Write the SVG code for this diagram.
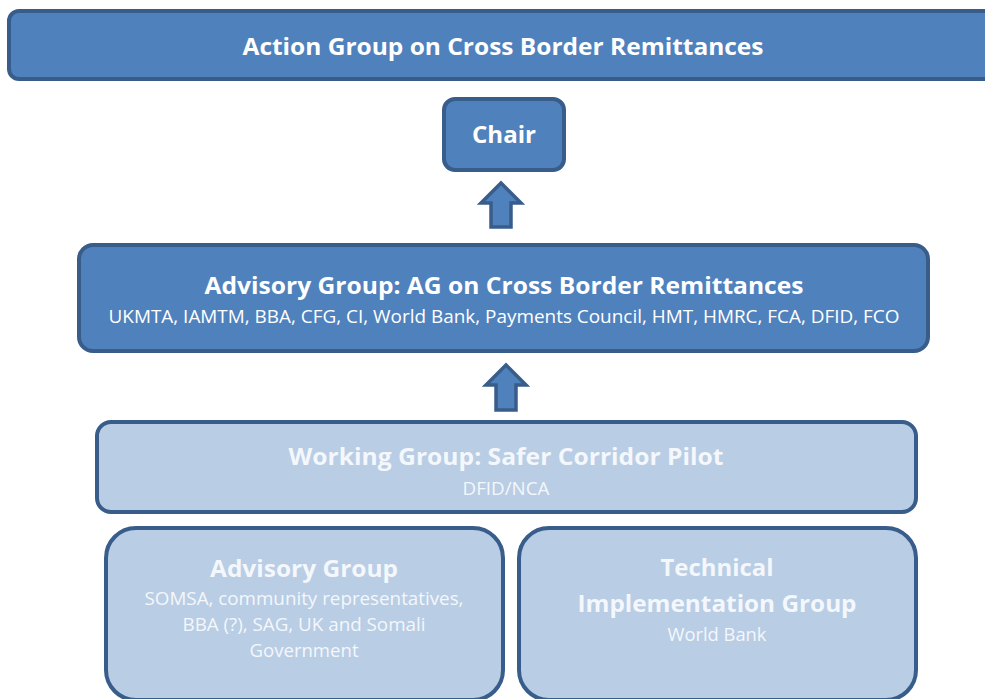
<svg xmlns="http://www.w3.org/2000/svg" width="985" height="699" viewBox="0 0 985 699">
  <style>
    .dark { fill: #4f81bd; stroke: #385d8a; stroke-width: 4; }
    .light { fill: #b9cde5; stroke: #385d8a; stroke-width: 4; }
    .arrow { fill: #4f81bd; stroke: #385d8a; stroke-width: 3.5; stroke-linejoin: miter; }
    text { font-family: "Open Sans", "Noto Sans", sans-serif; text-anchor: middle; fill: #ffffff; }
    .h { font-weight: 700; font-size: 24px; }
    .s { font-weight: 400; font-size: 17.5px; }
    .soft { fill: #f4f7fb; }
  </style>
  <rect width="985" height="699" fill="#ffffff"/>

  <g id="action-group">
    <rect class="dark" x="9" y="11" width="990" height="68" rx="10"/>
    <text class="h" x="503" y="55" textLength="521" lengthAdjust="spacingAndGlyphs">Action Group on Cross Border Remittances</text>
  </g>

  <g id="chair">
    <rect class="dark" x="444" y="99" width="120" height="71" rx="11"/>
    <text class="h" x="504" y="143" textLength="64" lengthAdjust="spacingAndGlyphs">Chair</text>
  </g>

  <g id="advisory-ag">
    <rect class="dark" x="79" y="245" width="849" height="106" rx="14"/>
    <text class="h" x="504" y="294" textLength="599" lengthAdjust="spacingAndGlyphs">Advisory Group: AG on Cross Border Remittances</text>
    <text class="s" x="504" y="323" textLength="791" lengthAdjust="spacingAndGlyphs">UKMTA, IAMTM, BBA, CFG, CI, World Bank, Payments Council, HMT, HMRC, FCA, DFID, FCO</text>
  </g>

  <g id="working-group">
    <rect class="light" x="97" y="422" width="819" height="90" rx="14"/>
    <text class="h soft" x="506" y="465" textLength="435" lengthAdjust="spacingAndGlyphs">Working Group: Safer Corridor Pilot</text>
    <text class="s soft" x="506" y="495" font-size="16" textLength="87" lengthAdjust="spacingAndGlyphs">DFID/NCA</text>
  </g>

  <g id="advisory-group">
    <rect class="light" x="106" y="528" width="397" height="172" rx="30"/>
    <text class="h soft" x="304" y="577" textLength="188" lengthAdjust="spacingAndGlyphs">Advisory Group</text>
    <text class="s soft" x="304" y="605" textLength="319" lengthAdjust="spacingAndGlyphs">SOMSA, community representatives,</text>
    <text class="s soft" x="304" y="631" textLength="243" lengthAdjust="spacingAndGlyphs">BBA (?), SAG, UK and Somali</text>
    <text class="s soft" x="304" y="657" textLength="109" lengthAdjust="spacingAndGlyphs">Government</text>
  </g>

  <g id="technical-group">
    <rect class="light" x="519" y="528" width="397" height="172" rx="30"/>
    <text class="h soft" x="717" y="576" textLength="113" lengthAdjust="spacingAndGlyphs">Technical</text>
    <text class="h soft" x="717" y="612" textLength="279" lengthAdjust="spacingAndGlyphs">Implementation Group</text>
    <text class="s soft" x="717" y="641" textLength="99" lengthAdjust="spacingAndGlyphs">World Bank</text>
  </g>

  <g id="connectors">
    <polygon class="arrow" points="501,183 521,203 511,203 511,227 491,227 491,203 481,203"/>
    <polygon class="arrow" points="506,365 526,385 516,385 516,410 496,410 496,385 486,385"/>
  </g>
</svg>
